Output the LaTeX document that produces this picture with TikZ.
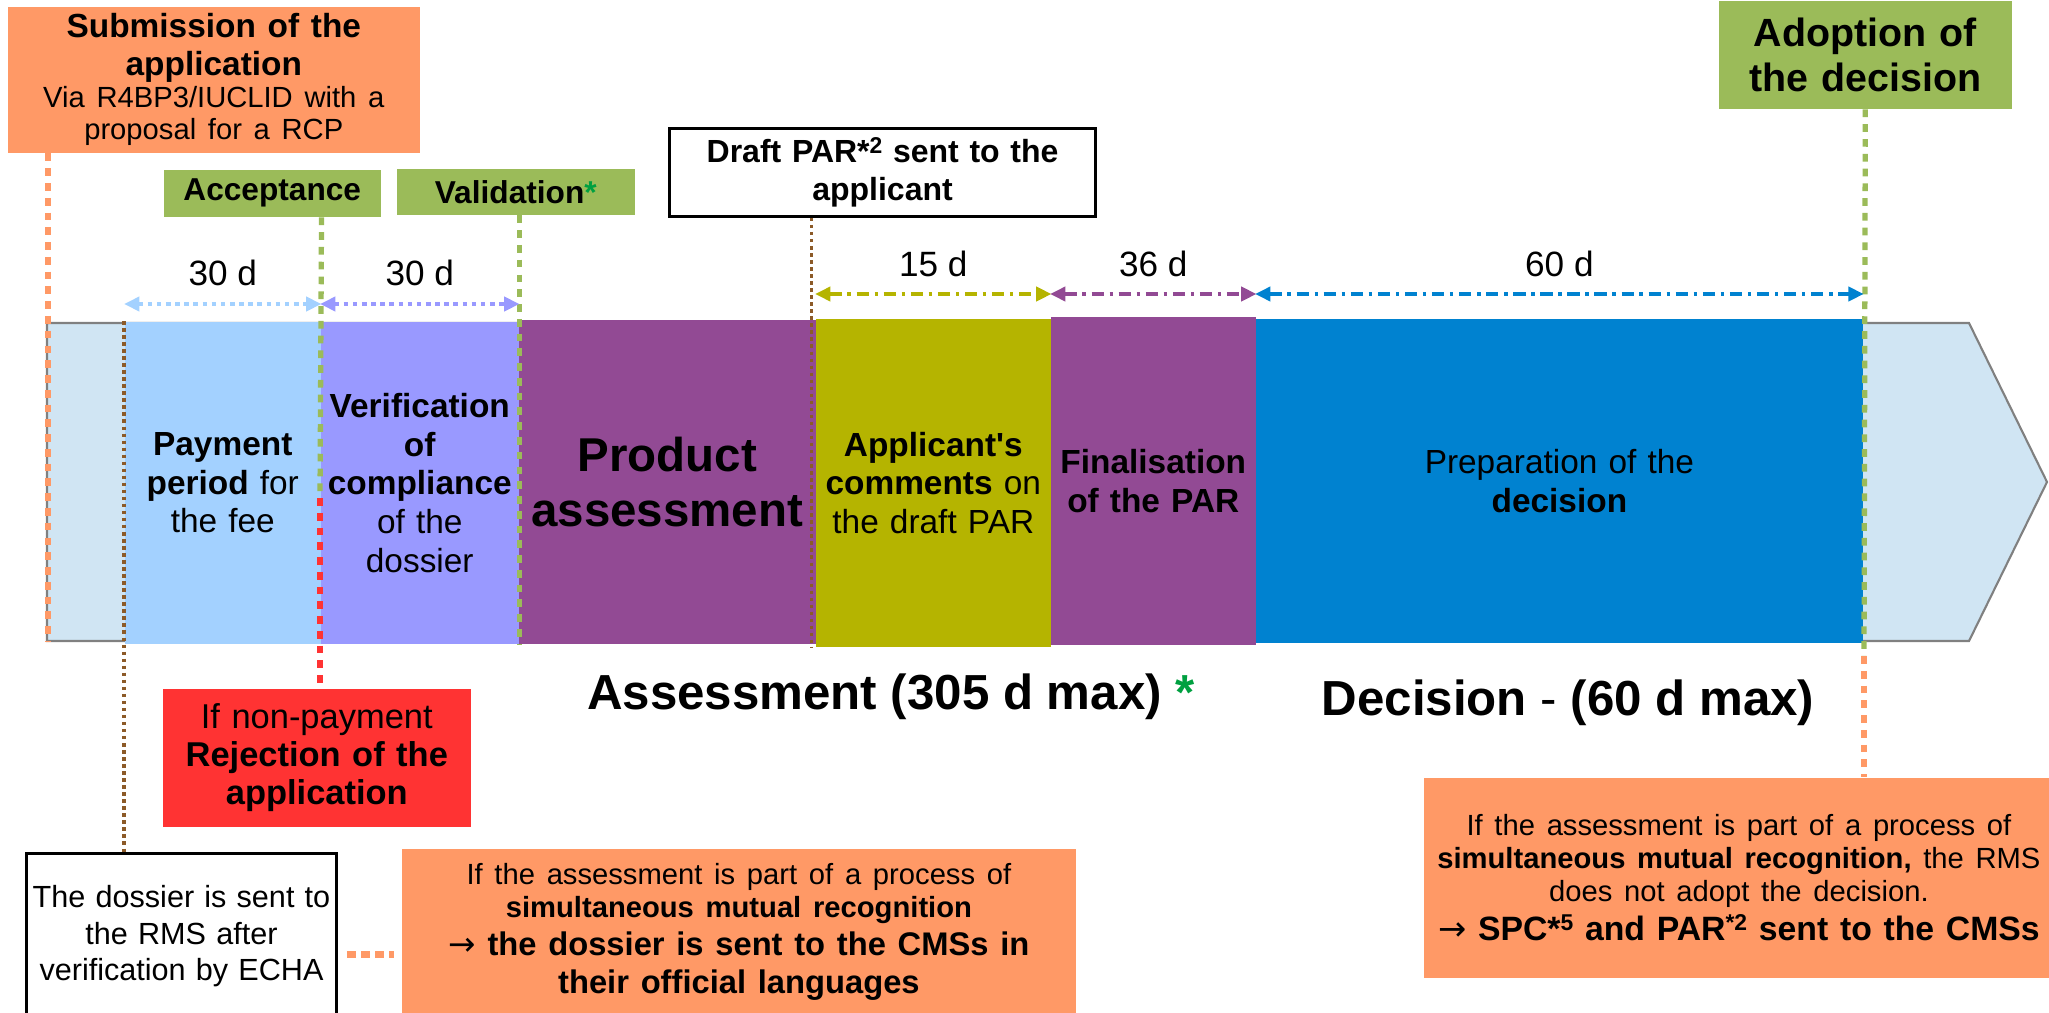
\documentclass[tikz,border=0pt]{standalone}
\usepackage{fontspec}
\setmainfont{Liberation Sans}
\newfontfamily\arrowfont{DejaVu Sans}
\usepackage{tikz}
\usetikzlibrary{arrows.meta}
\usetikzlibrary{positioning}
\usetikzlibrary{calc}
\definecolor{subor}{HTML}{FF9966}
\definecolor{mkgreen}{HTML}{9BBB59}
\definecolor{paybl}{HTML}{A3D1FF}
\definecolor{verlav}{HTML}{9999FF}
\definecolor{asspur}{HTML}{924A94}
\definecolor{comol}{HTML}{B5B400}
\definecolor{decbl}{HTML}{0082D0}
\definecolor{tailbl}{HTML}{D0E5F3}
\definecolor{rejred}{HTML}{FF3333}
\definecolor{echabr}{HTML}{8C5A28}
\definecolor{stargr}{HTML}{00A040}
\newcommand\setfs[2]{\fontsize{#1}{#2}\selectfont}
\newcommand\supr[1]{\raisebox{0.55ex}{\setfs{6.5}{7}#1}}
\newcommand\toarrow{{\arrowfont\mdseries →}}
\tikzset{>={Triangle[length=4.4pt,width=4pt]}}
\tikzset{
    phase/.style = {anchor=north west, inner sep=0pt, align=center, font=\setfs{9.5}{11}},
    marker/.style = {anchor=north west, inner sep=0pt, align=center},
    milestone/.style = {marker, fill=mkgreen, font=\bfseries\setfs{9}{11}},
    note/.style = {marker, fill=subor},
    tick/.style = {line width=1.5pt, dash pattern=on 2.2pt off 2pt},
    finetick/.style = {echabr, line width=0.9pt, dash pattern=on 1pt off 1pt},
    span/.style = {<->, line width=1.4pt, dash pattern=on 1.3pt off 1.3pt},
    spandot/.style = {<->, line width=1.2pt, dash pattern=on 3.5pt off 1.6pt on 1pt off 1.6pt},
    days/.style = {midway, above=1pt, font=\setfs{10}{12}, text=black},
    stage/.style = {font=\bfseries\setfs{14}{16}},
}
\begin{document}
\begin{tikzpicture}[x=0.01cm, y=-0.01cm]
\useasboundingbox (0,0) rectangle (2049,1012);
% timeline bar
\draw[gray, line width=0.6pt, fill=tailbl] (47,323) -- (1969,323) -- (2047,482) -- (1969,641) -- (47,641) -- cycle;
\node[phase, fill=paybl, text width=1.96cm, minimum height=3.22cm] (pay) at (124,321) {\textbf{Payment}\\\textbf{period} for\\the fee};
\node[phase, fill=verlav, text width=1.98cm, minimum height=3.22cm] (verif) at (320,321) {\textbf{Verification}\\\textbf{of}\\\textbf{compliance}\\of the\\dossier};
\node[phase, fill=asspur, text width=2.97cm, minimum height=3.24cm, font=\bfseries\setfs{13.5}{15.6}] (prod) at (518,319) {Product\\assessment};
\node[phase, fill=comol, text width=2.35cm, minimum height=3.28cm] (comm) at (815,318) {\textbf{Applicant\textquotesingle s}\\\textbf{comments} on\\the draft PAR};
\node[phase, fill=asspur, text width=2.05cm, minimum height=3.28cm, font=\bfseries\setfs{9.5}{11}] (fin) at (1050,316) {Finalisation\\of the PAR};
\node[phase, fill=decbl, text width=6.07cm, minimum height=3.24cm] (prep) at (1255,318) {Preparation of the\\\textbf{decision}};

% milestones
\node[note, text width=4.12cm, minimum height=1.46cm] (sub) at (7,6) {{\bfseries\setfs{9.5}{10.9}Submission of the\\application\par}{\setfs{8.3}{9.1}Via R4BP3/IUCLID with a\\proposal for a RCP\par}};
\node[milestone, text width=2.17cm, minimum height=0.47cm] (acc) at (163,169) {Acceptance};
\node[milestone, text width=2.38cm, minimum height=0.46cm] (val) at (396,168) {Validation{\color{stargr}*}\hspace*{0.9em}};
\node[marker, draw, line width=0.8pt, fill=white, text width=4.26cm, minimum height=0.88cm, font=\bfseries\setfs{9.1}{10.8}] (draft) at (668,127) {Draft PAR*\supr{2} sent to the\\applicant};
\node[milestone, text width=2.93cm, minimum height=1.08cm, font=\bfseries\setfs{11.2}{12.8}] (adopt) at (1718,0) {Adoption of\\the decision};

\node[marker, fill=rejred, text width=3.08cm, minimum height=1.38cm, font=\setfs{9.8}{10.8}] (rej) at (162,688) {If non-payment\\\textbf{Rejection of the}\\\textbf{application}};
\node[marker, draw, line width=0.8pt, fill=white, text width=3.1cm, minimum height=1.66cm, font=\setfs{8.7}{10.4}] (echa) at (25,852) {The dossier is sent to\\the RMS after\\verification by ECHA};
\node[note, text width=6.74cm, minimum height=1.66cm] (mid) at (401,848) {{\setfs{8.3}{9.4}If the assessment is part of a process of\\\textbf{simultaneous mutual recognition}\par}{\bfseries\setfs{9.3}{10.9}\toarrow{} the dossier is sent to the CMSs in\\their official languages\par}};
\node[note, text width=6.3cm, minimum height=2cm] (right) at (1423,777) {{\setfs{8.3}{9.4}If the assessment is part of a process of\\\textbf{simultaneous mutual recognition,} the RMS\\does not adopt the decision.\par}{\bfseries\setfs{9.6}{11}\toarrow{} SPC*\supr{5} and PAR\supr{*2} sent to the CMSs\par}};

\node[stage] (asslab) at (891,697) {Assessment (305 d max) {\color{stargr}*}};
\node[stage] (declab) at (1568,703) {Decision {\mdseries -} (60 d max)};

% markers on the bar
\coordinate (start) at (48,642);
\coordinate (nopay) at (320,498);
\coordinate (adoptend) at (1864,656);
\draw[tick, subor] (sub.south -| start) -- (start);
\draw[tick, mkgreen] (acc.south -| pay.east) -- (nopay);
\draw[tick, rejred] (nopay) -- (rej.north -| nopay);
\draw[tick, mkgreen] (val.south -| verif.east) -- (verif.south east);
\draw[tick, mkgreen] (adopt.south) -- (adoptend);
\draw[tick, subor] (adoptend) -- (right.north -| adoptend);
\draw[finetick] ([xshift=-1pt]draft.south -| comm.west) -- ([xshift=-1pt]comm.south west);
\draw[finetick] (pay.north west) -- (echa.north -| pay.north west);
\draw[subor, line width=2.2pt, dash pattern=on 2.5pt off 1.5pt] ($(echa.east)+(9,18)$) -- ($(mid.west |- echa.east)+(-7,18)$);

% durations
\coordinate (row1) at (0,304);
\coordinate (row2) at (0,294);
\draw[span, paybl] (pay.west |- row1) -- (pay.east |- row1) node[days] {30 d};
\draw[span, verlav] (verif.west |- row1) -- (verif.east |- row1) node[days] {30 d};
\draw[spandot, comol] (comm.west |- row2) -- (comm.east |- row2) node[days] {15 d};
\draw[spandot, asspur] (fin.west |- row2) -- (fin.east |- row2) node[days] {36 d};
\draw[spandot, decbl] (prep.west |- row2) -- (prep.east |- row2) node[days] {60 d};
\end{tikzpicture}
\end{document}
